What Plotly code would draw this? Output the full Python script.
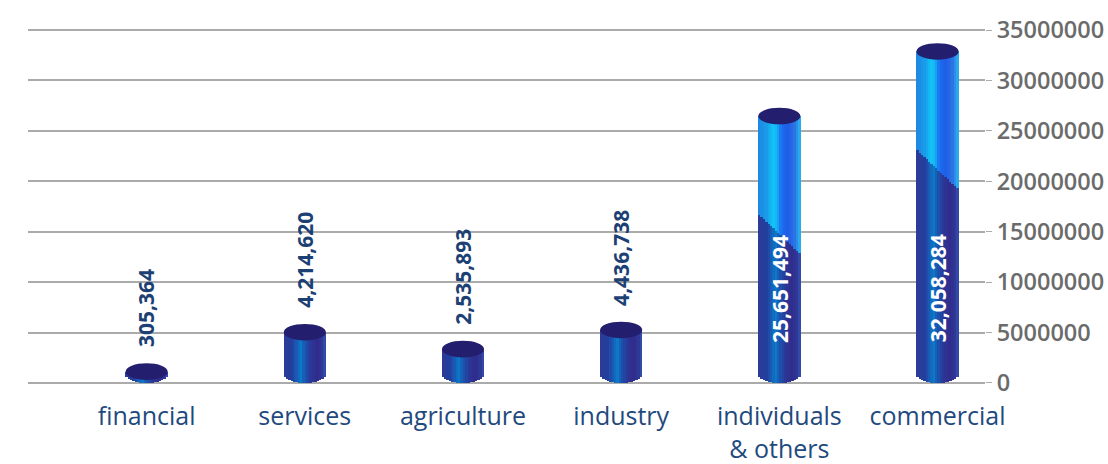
import numpy as np
import plotly.graph_objects as go

# ---------------- data ----------------
categories = ["financial", "services", "agriculture", "industry", "individuals<br>& others", "commercial"]
values = [305364, 4214620, 2535893, 4436738, 25651494, 32058284]
value_labels = ["305,364", "4,214,620", "2,535,893", "4,436,738", "25,651,494", "32,058,284"]
y_tickvals = [0, 5000000, 10000000, 15000000, 20000000, 25000000, 30000000, 35000000]
y_ticktext = ["0", "5000000", "10000000", "15000000", "20000000", "25000000", "30000000", "35000000"]

# ---------------- style ----------------
BAR_W = 0.266          # cylinder width in category units
H = 820000             # half-height of the ellipse caps (data units)
N = 18                 # number of vertical strips to fake the shading
LIGHT_MIN = 10000000   # bars taller than this get the bright upper part
LIGHT_LEFT = 9700000   # length of bright part on left edge
LIGHT_RIGHT = 13700000 # length of bright part on right edge

dark_stops = [(-1.0, "#2c3a96"), (-0.6, "#233f9e"), (-0.35, "#1760b8"), (-0.18, "#0a7cca"),
              (0.0, "#1a55b0"), (0.3, "#2b3796"), (0.6, "#2f2b8a"), (0.85, "#2e3a98"), (1.0, "#3452b2")]
light_stops = [(-1.0, "#1e86e2"), (-0.6, "#1a9cea"), (-0.3, "#10c4f6"), (-0.1, "#18b0f4"),
               (0.1, "#1a6cf0"), (0.4, "#1f5ee8"), (0.7, "#2a6fe2"), (1.0, "#2ab8f0")]
cap_color = "#241e6e"


def hex2rgb(h):
    h = h.lstrip("#")
    return np.array([int(h[i:i + 2], 16) for i in (0, 2, 4)], dtype=float)


def interp(stops, u):
    for (u0, c0), (u1, c1) in zip(stops[:-1], stops[1:]):
        if u0 <= u <= u1:
            t = (u - u0) / (u1 - u0) if u1 > u0 else 0
            c = hex2rgb(c0) * (1 - t) + hex2rgb(c1) * t
            return "rgb(%d,%d,%d)" % tuple(c.round())
    return stops[-1][1]


x = np.arange(len(categories))
vals = np.array(values, dtype=float)
tops = vals + H  # centre of the top ellipse

fig = go.Figure()
sw = BAR_W / N
for i in range(N):
    u = -1 + (i + 0.5) * 2 / N
    bottom = H - H * np.sqrt(max(0.0, 1 - u * u))
    frac = (u + 1) / 2
    split = np.where(vals > LIGHT_MIN, tops - (LIGHT_LEFT + (LIGHT_RIGHT - LIGHT_LEFT) * frac), tops)
    off = -BAR_W / 2 + i * sw
    fig.add_trace(go.Bar(
        x=x, y=split - bottom, base=[bottom] * len(x), width=sw * 1.15, offset=off - sw * 0.075,
        marker=dict(color=interp(dark_stops, u), line=dict(width=0)),
        hoverinfo="skip", showlegend=False))
    fig.add_trace(go.Bar(
        x=x, y=tops - split, base=split, width=sw * 1.15, offset=off - sw * 0.075,
        marker=dict(color=interp(light_stops, u), line=dict(width=0)),
        hoverinfo="skip", showlegend=False))

shapes = []
for xi, t in zip(x, tops):
    shapes.append(dict(type="circle", xref="x", yref="y", x0=xi - BAR_W / 2, x1=xi + BAR_W / 2,
                       y0=t - H, y1=t + H, fillcolor=cap_color, line=dict(width=0), layer="above"))

annotations = []
for xi, v, t, lab in zip(x, vals, tops, value_labels):
    if v > LIGHT_MIN:
        annotations.append(dict(x=xi, y=3800000, xref="x", yref="y", text=lab, textangle=-90,
                                showarrow=False, yanchor="bottom", xanchor="center",
                                font=dict(family="Open Sans", size=21, color="white", weight=700)))
    else:
        annotations.append(dict(x=xi, y=t + H, xref="x", yref="y", text=lab, textangle=-90,
                                showarrow=False, yanchor="bottom", xanchor="center", yshift=14,
                                font=dict(family="Open Sans", size=21, color="#1c3f74", weight=700)))

fig.update_layout(
    width=1108, height=464,
    margin=dict(l=28, r=123, t=27, b=78, autoexpand=False),
    paper_bgcolor="white", plot_bgcolor="white",
    barmode="overlay", bargap=0,
    shapes=shapes, annotations=annotations,
    xaxis=dict(range=[-0.75, 5.3], tickmode="array", tickvals=x, ticktext=categories,
               showgrid=False, zeroline=False, showline=False, ticks="",
               ticklabelstandoff=13, automargin=False,
               tickfont=dict(family="Open Sans", size=25, color="#1f4a7e")),
    yaxis=dict(range=[-300000, 35300000], side="right", tickmode="array", tickvals=y_tickvals,
               ticktext=y_ticktext, showgrid=True, gridcolor="#ababab", gridwidth=1.5,
               zeroline=False, showline=False, ticks="outside", ticklen=6, tickcolor="#ababab",
               automargin=False,
               tickfont=dict(family="Open Sans", size=23.5, color="#6b6b6b", weight=600)),
    font=dict(family="Open Sans"),
)

fig.write_html("out.html")
